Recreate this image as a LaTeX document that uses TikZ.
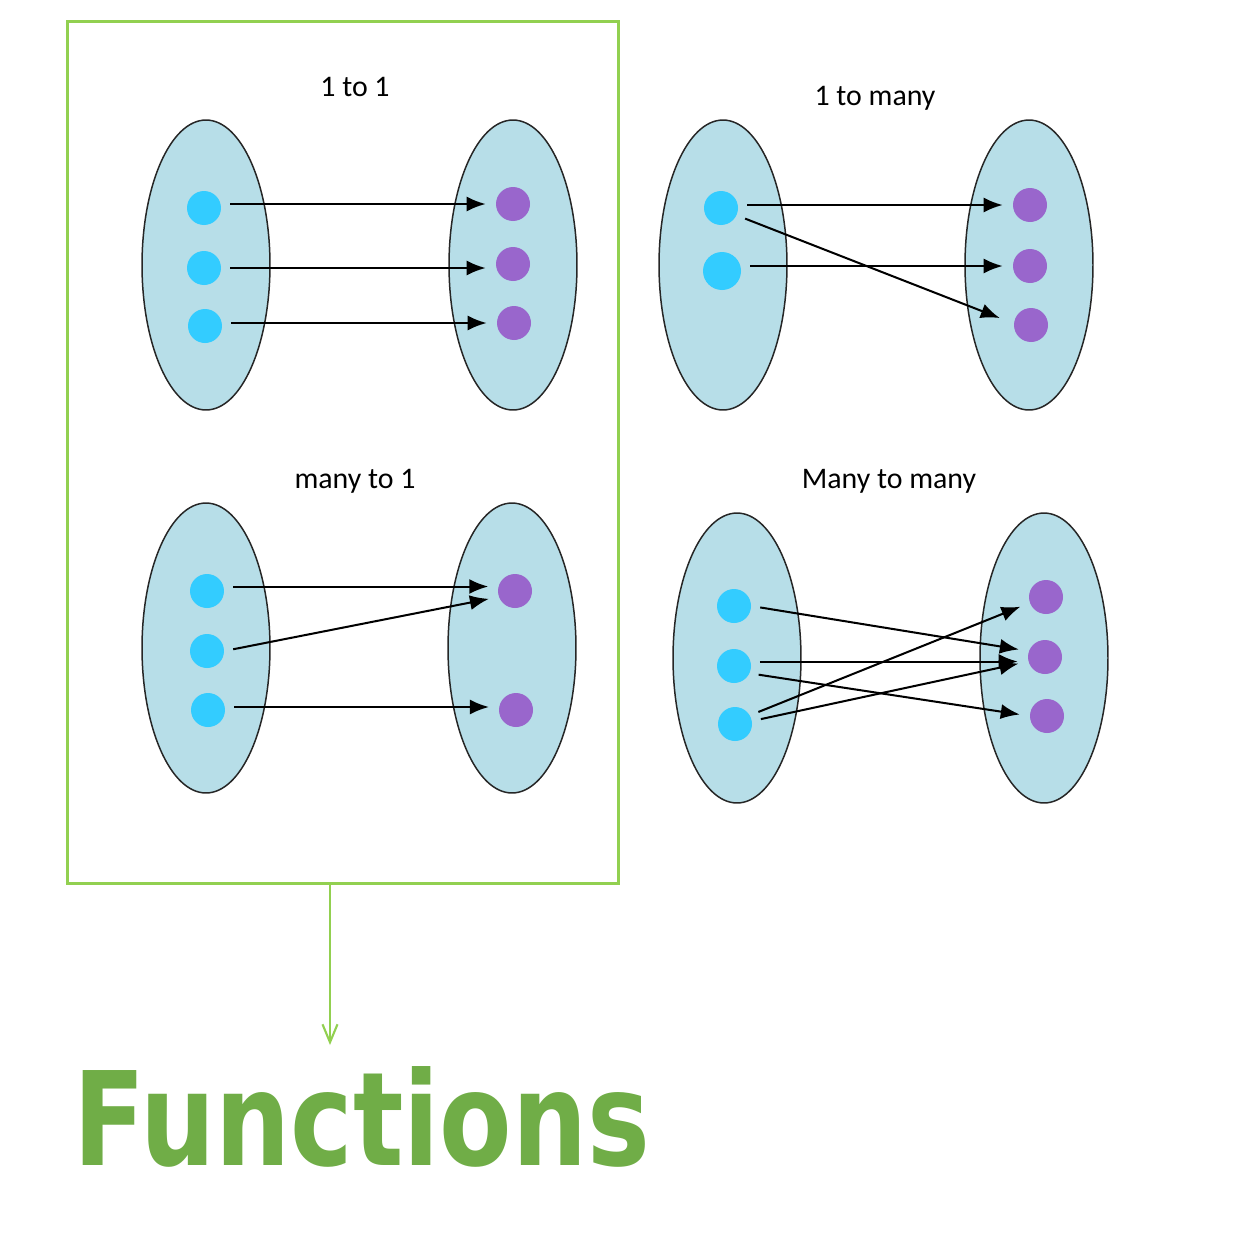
\documentclass[tikz,border=0pt]{standalone}
\usepackage{fontspec}
\usepackage{graphicx}
\setmainfont{Carlito}
\newfontfamily\headfont{DejaVu Sans}
\usetikzlibrary{arrows.meta, shapes.geometric}
\definecolor{setfill}{HTML}{B7DEE8}
\definecolor{domdot}{HTML}{33CCFF}
\definecolor{coddot}{HTML}{9966CC}
\definecolor{framegreen}{HTML}{92D050}
\definecolor{titlegreen}{HTML}{70AD47}

\begin{document}
\begin{tikzpicture}[x=0.02cm, y=-0.02cm,
  font=\fontsize{17}{20}\selectfont,
  set/.style={ellipse, draw=black!85, line width=0.85pt, fill=setfill,
    minimum width=2.56cm, minimum height=5.8cm, inner sep=0pt},
  src/.style={circle, fill=domdot, minimum size=0.68cm, inner sep=0pt},
  dst/.style={circle, fill=coddot, minimum size=0.68cm, inner sep=0pt},
  map/.style={-{Latex[length=0.38cm, width=0.3cm]}, line width=1.15pt,
    shorten <=0.18cm, shorten >=0.2cm}]
  \useasboundingbox (0,0) rectangle (1244,1234);

  % the functions frame
  \node[draw=framegreen, line width=1.7pt, minimum width=11.04cm,
    minimum height=17.26cm, inner sep=0pt] (frame) at (343,452.5) {};

  % titles
  \node (lab11) at (355,87) {1 to 1};
  \node (lab1m) at (875,98) {1 to many};
  \node (labm1) at (355,481) {many to 1};
  \node (labmm) at (889,481) {Many to many};

  % sets
  \node[set] (p1l) at (206,265) {};
  \node[set] (p1r) at (513,265) {};
  \node[set] (p2l) at (723,265) {};
  \node[set] (p2r) at (1029,265) {};
  \node[set] (p3l) at (206,648) {};
  \node[set] (p3r) at (512,648) {};
  \node[set] (p4l) at (737,658) {};
  \node[set] (p4r) at (1044,658) {};

  % 1 to 1
  \node[src] (p1a1) at (204,208) {};
  \node[src] (p1a2) at (204,268) {};
  \node[src] (p1a3) at (205,326) {};
  \node[dst] (p1b1) at (513,204) {};
  \node[dst] (p1b2) at (513,264) {};
  \node[dst] (p1b3) at (514,323) {};
  \draw[map] (p1a1.east |- p1b1.west) -- (p1b1.west);
  \draw[map] (p1a2.east) -- (p1a2.east -| p1b2.west);
  \draw[map] (p1a3.east |- p1b3.west) -- (p1b3.west);

  % 1 to many
  \node[src] (p2a1) at (721,208) {};
  \node[src, minimum size=0.76cm] (p2a2) at (722,271) {};
  \node[dst] (p2b1) at (1030,205) {};
  \node[dst] (p2b2) at (1030,266) {};
  \node[dst] (p2b3) at (1031,325) {};
  \draw[map] (p2a1.east |- p2b1.west) -- (p2b1.west);
  \draw[map] (p2a2.east |- p2b2.west) -- (p2b2.west);
  \draw[map, shorten >=0.3cm] (p2a1.-25) -- (p2b3.175);

  % many to 1
  \node[src] (p3a1) at (207,591) {};
  \node[src] (p3a2) at (207,651) {};
  \node[src] (p3a3) at (208,710) {};
  \node[dst] (p3b1) at (515,591) {};
  \node[dst] (p3b2) at (516,710) {};
  \draw[map] (p3a1.east |- p3b1.165) -- (p3b1.165);
  \draw[map] (p3a2.east) -- (p3b1.200);
  \draw[map] (p3a3.east |- p3b2.170) -- (p3b2.170);

  % many to many
  \node[src] (p4a1) at (734,606) {};
  \node[src] (p4a2) at (734,666) {};
  \node[src] (p4a3) at (735,724) {};
  \node[dst] (p4b1) at (1046,597) {};
  \node[dst] (p4b2) at (1045,657) {};
  \node[dst] (p4b3) at (1047,716) {};
  \draw[map] (p4a1.east) -- (p4b2.160);
  \draw[map] (p4a2.15) -- (p4a2.15 -| p4b2.west);
  \draw[map] (p4a2.-25) -- (p4b3.west);
  \draw[map] (p4a3.30) -- (p4b1.200);
  \draw[map] (p4a3.10) -- (p4b2.195);

  % pointer to the caption
  \coordinate (pointer) at (330,1045);
  \draw[framegreen, line width=1.2pt, -{Straight Barb[length=0.36cm, width=0.3cm]}]
    (frame.south -| pointer) -- (pointer);
  \node[text=titlegreen, anchor=south west, inner sep=0pt] (caption) at (73,1168)
    {\resizebox{11.54cm}{1.98cm}{\headfont\bfseries Functions}};
\end{tikzpicture}
\end{document}
